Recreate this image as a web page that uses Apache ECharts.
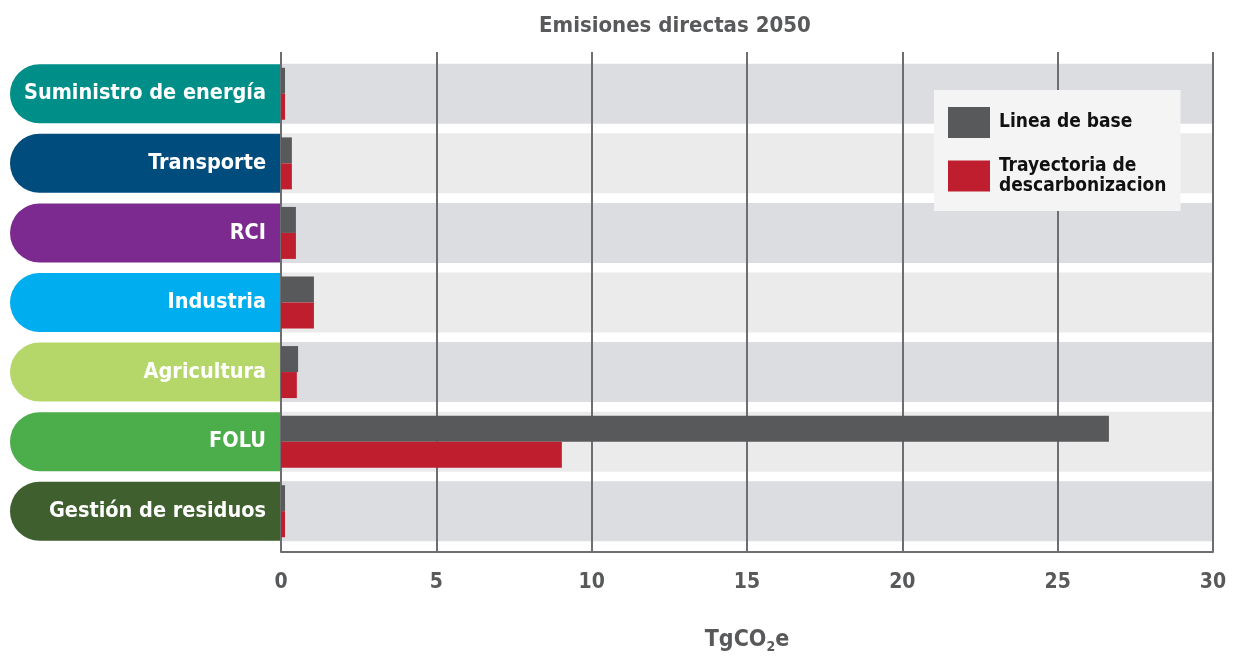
<!DOCTYPE html>
<html><head><meta charset="utf-8">
<script src="https://cdn.jsdelivr.net/npm/echarts@6/dist/echarts.min.js"></script>
<style>html,body{margin:0;padding:0;background:#fff;}#c{width:1234px;height:656px;}</style>
</head><body><div id="c"></div>
<script>
const categories = ['Suministro de energía','Transporte','RCI','Industria','Agricultura','FOLU','Gestión de residuos'];
const categoryColors = ['#008f88','#004c7d','#7c2a8f','#00adee','#b5d669','#4cad4b','#3f5f2e'];
const baseline = [0.13, 0.35, 0.48, 1.06, 0.55, 26.65, 0.13];
const decarb = [0.13, 0.35, 0.48, 1.06, 0.51, 9.04, 0.13];
const bandValues = [30, 30, 30, 30, 30, 30, 30];
const bandColors = ['#dcdde0','#ebebeb'];
const xTicks = [0, 5, 10, 15, 20, 25, 30];

const FONT = "'Liberation Sans Narrow','DejaVu Sans Condensed','Roboto',sans-serif";
const GRID = '#6d6e71';
const TXT = '#58595b';

const rich = {};
categories.forEach((c, i) => {
  rich['p' + i] = {
    backgroundColor: categoryColors[i],
    color: '#fff', fontFamily: FONT, fontWeight: 'bold', fontSize: 21.5,
    width: 256, height: 59, lineHeight: 59, padding: [0, 14, 0, 0],
    align: 'right', borderRadius: [29.5, 0, 0, 29.5]
  };
});

const chart = echarts.init(document.getElementById('c'));
chart.setOption({
  animation: false,
  title: {
    text: 'Emisiones directas 2050', left: 534, top: 10,
    textStyle: { fontFamily: FONT, fontWeight: 'bold', fontSize: 22, color: TXT }
  },
  legend: {
    orient: 'vertical', left: 934, top: 90, width: 220,
    backgroundColor: '#f4f4f4', padding: [17, 14, 15, 14],
    itemWidth: 42, itemHeight: 31, itemGap: 18,
    data: ['Linea de base', 'Trayectoria de descarbonizacion'],
    formatter: n => n === 'Trayectoria de descarbonizacion' ? 'Trayectoria de\ndescarbonizacion' : n,
    textStyle: { fontFamily: FONT, fontWeight: 'bold', fontSize: 19, lineHeight: 20, color: '#111', padding: [0, 0, 0, 4] },
    icon: 'rect'
  },
  grid: [
    { left: 281, right: 21, top: 52, bottom: 104, outerBoundsMode: 'none', containLabel: false },
    { left: 281, right: 21, top: 59, bottom: 110, outerBoundsMode: 'none', containLabel: false }
  ],
  xAxis: [
    {
      gridIndex: 0, type: 'value', min: 0, max: 30, interval: 5, z: 2,
      axisLine: { show: true, lineStyle: { color: GRID, width: 2 } },
      axisTick: { show: false },
      splitLine: { show: true, lineStyle: { color: GRID, width: 2 } },
      axisLabel: { margin: 20, fontFamily: FONT, fontWeight: 'bold', fontSize: 21, color: TXT,
        formatter: v => xTicks.includes(v) ? String(v) : '' },
      name: 'TgCO{sub|2}e', nameLocation: 'middle', nameGap: 74,
      nameTextStyle: { fontFamily: FONT, fontWeight: 'bold', fontSize: 23, color: TXT,
        rich: { sub: { fontFamily: FONT, fontWeight: 'bold', fontSize: 14, color: TXT, verticalAlign: 'bottom', padding: [14, 0, 0, 0] } } }
    },
    { gridIndex: 1, type: 'value', min: 0, max: 30, show: false }
  ],
  yAxis: [
    { gridIndex: 0, type: 'category', data: [''], show: false },
    {
      gridIndex: 1, type: 'category', inverse: true, data: categories,
      axisLine: { show: false }, axisTick: { show: false },
      axisLabel: { margin: 1, rich: rich, formatter: (v, i) => '{p' + i + '|' + v + '}' }
    },
    { gridIndex: 1, type: 'category', inverse: true, data: categories, show: false }
  ],
  series: [
    {
      type: 'bar', name: 'bands', xAxisIndex: 1, yAxisIndex: 2, z: 1, barWidth: 60, silent: true,
      data: bandValues.map((v, i) => ({ value: v, itemStyle: { color: bandColors[i % 2] } }))
    },
    {
      type: 'bar', name: 'Linea de base', xAxisIndex: 1, yAxisIndex: 1, z: 3,
      barWidth: 26, barGap: '0%', itemStyle: { color: '#58595b' }, data: baseline
    },
    {
      type: 'bar', name: 'Trayectoria de descarbonizacion', xAxisIndex: 1, yAxisIndex: 1, z: 3,
      barWidth: 26, barGap: '0%', itemStyle: { color: '#be1e2d' }, data: decarb
    }
  ]
});
</script></body></html>
